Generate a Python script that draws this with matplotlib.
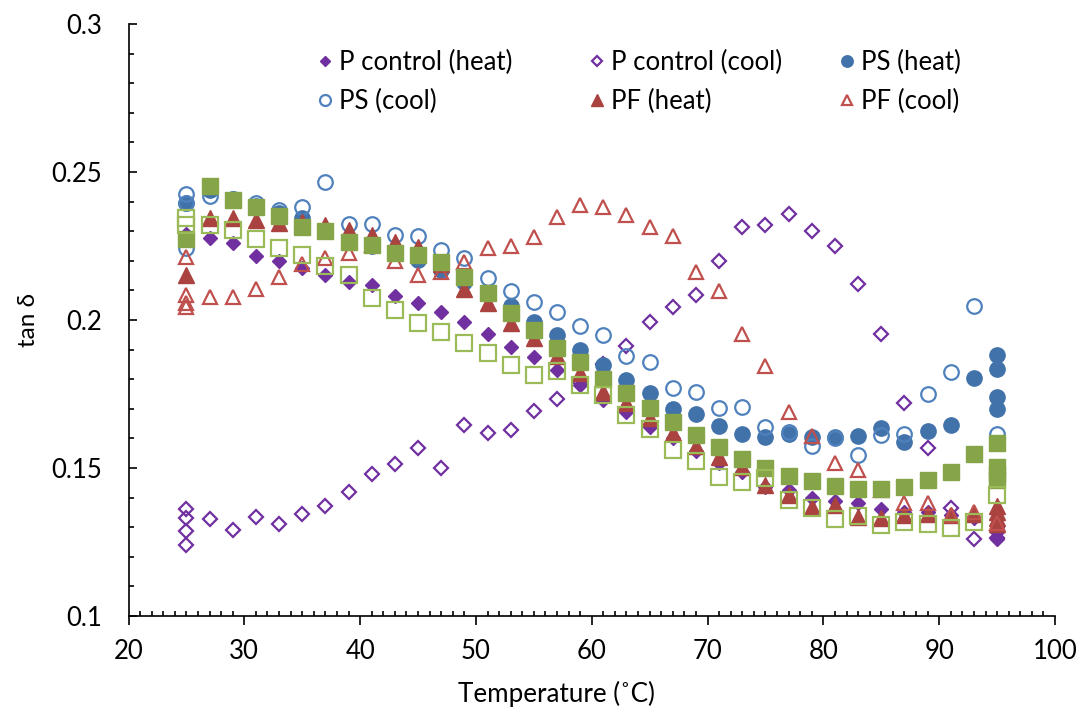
#!/usr/bin/env python3
"""tan delta vs temperature for heating and cooling runs."""

import matplotlib

matplotlib.use("Agg")
import matplotlib.pyplot as plt
from matplotlib.ticker import MultipleLocator

plt.rcParams["font.family"] = ["Lato", "DejaVu Sans"]

# temperatures (deg C) for heating runs (hold points at 95) and cooling runs (hold points at 25)
temp_heat = [25, 27, 29, 31, 33, 35, 37, 39, 41, 43, 45, 47, 49, 51, 53, 55, 57, 59, 61,
             63, 65, 67, 69, 71, 73, 75, 77, 79, 81, 83, 85, 87, 89, 91, 93, 95, 95, 95, 95]
temp_cool = [95, 93, 91, 89, 87, 85, 83, 81, 79, 77, 75, 73, 71, 69, 67, 65, 63, 61, 59,
             57, 55, 53, 51, 49, 47, 45, 43, 41, 39, 37, 35, 33, 31, 29, 27, 25, 25, 25, 25]

p_control_heat = [0.2290, 0.2278, 0.2259, 0.2217, 0.2199, 0.2177, 0.2152, 0.2129, 0.2118,
                  0.2081, 0.2056, 0.2026, 0.1992, 0.1953, 0.1910, 0.1876, 0.1830, 0.1780,
                  0.1730, 0.1690, 0.1639, 0.1600, 0.1558, 0.1516, 0.1488, 0.1437, 0.1426,
                  0.1400, 0.1390, 0.1381, 0.1361, 0.1352, 0.1351, 0.1340, 0.1330,
                  0.1300, 0.1285, 0.1265, 0.1260]
p_control_cool = [0.1262, 0.1259, 0.1366, 0.1567, 0.1721, 0.1952, 0.2122, 0.2250, 0.2301,
                  0.2357, 0.2321, 0.2315, 0.2198, 0.2084, 0.2045, 0.1992, 0.1912, 0.1850,
                  0.1790, 0.1733, 0.1693, 0.1628, 0.1618, 0.1645, 0.1500, 0.1568, 0.1514,
                  0.1479, 0.1419, 0.1373, 0.1346, 0.1311, 0.1333, 0.1291, 0.1328,
                  0.1361, 0.1332, 0.1287, 0.1240]
ps_heat = [0.2394, 0.2440, 0.2410, 0.2385, 0.2360, 0.2344, 0.2300, 0.2270, 0.2250, 0.2230,
           0.2203, 0.2169, 0.2130, 0.2090, 0.2047, 0.1994, 0.1949, 0.1899, 0.1848, 0.1797,
           0.1752, 0.1698, 0.1682, 0.1642, 0.1615, 0.1606, 0.1615, 0.1604, 0.1606, 0.1609,
           0.1634, 0.1589, 0.1626, 0.1645, 0.1805, 0.1699, 0.1741, 0.1833, 0.1882]
ps_cool = [0.1615, 0.2047, 0.1825, 0.1749, 0.1614, 0.1611, 0.1544, 0.1600, 0.1575, 0.1620,
           0.1637, 0.1707, 0.1704, 0.1756, 0.1771, 0.1857, 0.1878, 0.1949, 0.1981, 0.2028,
           0.2062, 0.2099, 0.2141, 0.2208, 0.2236, 0.2284, 0.2287, 0.2326, 0.2324, 0.2467,
           0.2383, 0.2372, 0.2394, 0.2410, 0.2419, 0.2425, 0.2394, 0.2242]
pf_heat = [0.2152, 0.2344, 0.2344, 0.2338, 0.2329, 0.2330, 0.2320, 0.2304, 0.2287, 0.2265,
           0.2248, 0.2190, 0.2104, 0.2056, 0.1989, 0.1938, 0.1880, 0.1820, 0.1758, 0.1719,
           0.1668, 0.1617, 0.1574, 0.1538, 0.1504, 0.1443, 0.1409, 0.1369, 0.1375, 0.1335,
           0.1330, 0.1340, 0.1345, 0.1340, 0.1345, 0.1310, 0.1330, 0.1350, 0.1370]
pf_cool = [0.1314, 0.1352, 0.1341, 0.1383, 0.1383, 0.1425, 0.1493, 0.1518, 0.1608, 0.1690,
           0.1845, 0.1953, 0.2098, 0.2163, 0.2284, 0.2313, 0.2355, 0.2383, 0.2389, 0.2347,
           0.2279, 0.2250, 0.2242, 0.2197, 0.2163, 0.2152, 0.2198, 0.2253, 0.2225, 0.2208,
           0.2189, 0.2144, 0.2105, 0.2077, 0.2077, 0.2214, 0.2085, 0.2056, 0.2045]
green_heat = [0.2273, 0.2453, 0.2405, 0.2383, 0.2351, 0.2315, 0.2301, 0.2265, 0.2253, 0.2225,
              0.2220, 0.2197, 0.2144, 0.2090, 0.2023, 0.1966, 0.1904, 0.1858, 0.1800, 0.1752,
              0.1702, 0.1654, 0.1611, 0.1572, 0.1530, 0.1501, 0.1474, 0.1457, 0.1440, 0.1429,
              0.1428, 0.1435, 0.1459, 0.1488, 0.1547, 0.1459, 0.1480, 0.1505, 0.1583]
green_cool = [0.1409, 0.1319, 0.1298, 0.1310, 0.1319, 0.1307, 0.1338, 0.1327, 0.1366, 0.1392,
              0.1467, 0.1452, 0.1471, 0.1524, 0.1561, 0.1632, 0.1679, 0.1747, 0.1780, 0.1828,
              0.1814, 0.1848, 0.1887, 0.1921, 0.1961, 0.1991, 0.2034, 0.2073, 0.2152, 0.2182,
              0.2220, 0.2242, 0.2273, 0.2304, 0.2321, 0.2346, 0.2320]

PURPLE = "#7030A0"
BLUE_FILL = "#4272AA"
BLUE_EDGE = "#4F81BD"
RED_FILL = "#AA423F"
RED_EDGE = "#C0504D"
GREEN_FILL = "#86A448"
GREEN_EDGE = "#9BBB59"


def main() -> None:
    fig = plt.figure(figsize=(10.84, 7.08), dpi=100)
    ax = fig.add_axes([128.5 / 1084, 1 - 616 / 708, (1055 - 128.5) / 1084, (616 - 24) / 708])

    mew = 1.6
    h1, = ax.plot(temp_heat, p_control_heat, "D", ms=7.2, color=PURPLE, mec=PURPLE,
                  ls="none", label="P control (heat)")
    h2, = ax.plot(temp_cool, p_control_cool, "D", ms=7.2, mfc="none", mec=PURPLE, mew=mew,
                  ls="none", label="P control (cool)")
    h3, = ax.plot(temp_heat, ps_heat, "o", ms=11, color=BLUE_FILL, mec=BLUE_FILL,
                  ls="none", label="PS (heat)")
    h4, = ax.plot(temp_cool[:len(ps_cool)], ps_cool, "o", ms=10.5, mfc="none", mec=BLUE_EDGE,
                  mew=mew, ls="none", label="PS (cool)")
    h5, = ax.plot(temp_heat, pf_heat, "^", ms=11, color=RED_FILL, mec=RED_FILL,
                  ls="none", label="PF (heat)")
    h6, = ax.plot(temp_cool, pf_cool, "^", ms=10.5, mfc="none", mec=RED_EDGE, mew=mew,
                  ls="none", label="PF (cool)")
    ax.plot(temp_heat, green_heat, "s", ms=11.5, color=GREEN_FILL, mec=GREEN_FILL, ls="none")
    ax.plot(temp_cool[:len(green_cool)], green_cool, "s", ms=11, mfc="none", mec=GREEN_EDGE,
            mew=mew, ls="none")

    ax.set_xlim(20, 100)
    ax.set_ylim(0.1, 0.3)
    ax.xaxis.set_major_locator(MultipleLocator(10))
    ax.xaxis.set_minor_locator(MultipleLocator(1))
    ax.yaxis.set_major_locator(MultipleLocator(0.05))
    ax.yaxis.set_minor_locator(MultipleLocator(0.01))
    ax.set_yticks([0.1, 0.15, 0.2, 0.25, 0.3], ["0.1", "0.15", "0.2", "0.25", "0.3"])

    for side in ("top", "right"):
        ax.spines[side].set_visible(False)
    for side in ("left", "bottom"):
        ax.spines[side].set_linewidth(1.2)

    ax.tick_params(axis="x", which="major", direction="out", length=6.5, width=1.2,
                   labelsize=18.5, pad=10)
    ax.tick_params(axis="x", which="minor", direction="in", length=3.8, width=1.2)
    ax.tick_params(axis="y", which="major", direction="in", length=6, width=1.2,
                   labelsize=18.5, pad=19)
    ax.tick_params(axis="y", which="minor", direction="in", length=3.8, width=1.2)

    ax.set_xlabel("Temperature (˚C)", fontsize=18.7)
    ax.xaxis.set_label_coords((556 - 128.5) / 926.5, -0.11)
    ax.set_ylabel("tan δ", fontsize=17.5)
    ax.yaxis.set_label_coords(-0.097, 0.5)

    # three legend columns placed where the reference puts them
    columns = [((h1, h4), 303), ((h2, h5), 575), ((h3, h6), 825)]
    for handles, x_px in columns:
        fig.legend(handles=handles, loc="center left",
                   bbox_to_anchor=(x_px / 1084, 1 - 82 / 708),
                   frameon=False, fontsize=18.5,
                   borderpad=0, handlelength=0.7, handletextpad=0.22,
                   labelspacing=0.52, markerscale=0.75)

    fig.savefig("out.png", dpi=100)
    plt.close(fig)


if __name__ == "__main__":
    main()
